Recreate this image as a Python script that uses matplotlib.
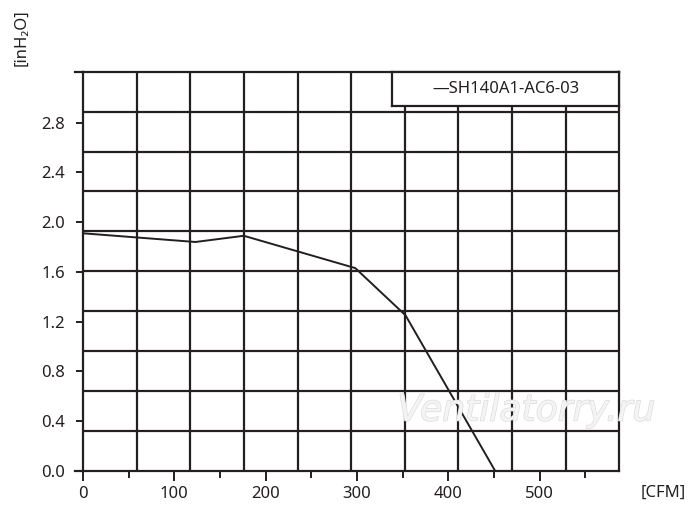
import numpy as np
import matplotlib
matplotlib.use("Agg")
import matplotlib.pyplot as plt
import matplotlib.patheffects as pe

plt.rcParams['font.family'] = ['Noto Sans', 'DejaVu Sans']

# данные кривой (CFM, inH2O)
flow_cfm = [0, 123, 176, 298, 353, 451]
pressure_inh2o = [1.91, 1.84, 1.89, 1.63, 1.25, 0.0]
series_name = "SH140A1-AC6-03"

x_ticks = [0, 100, 200, 300, 400, 500]
y_ticks = [0.0, 0.4, 0.8, 1.2, 1.6, 2.0, 2.4, 2.8]
X_MAX, Y_MAX = 587, 3.21

ink = '#231f20'

fig = plt.figure(figsize=(7, 5.23), dpi=100)
ax = fig.add_axes([0.1186, 0.1, 0.7661, 0.7629])
ax.set_xlim(0, X_MAX)
ax.set_ylim(0, Y_MAX)

# сетка 10x10, не совпадает с делениями осей
for gx in np.linspace(0, X_MAX, 11)[1:-1]:
    ax.axvline(gx, color=ink, lw=1.6, zorder=1)
for gy in np.linspace(0, Y_MAX, 11)[1:-1]:
    ax.axhline(gy, color=ink, lw=1.6, zorder=1)

for s in ax.spines.values():
    s.set_color(ink)
    s.set_linewidth(1.6)

# выступы верхней и нижней рамки влево
for yy in (0, 1):
    ax.plot([-0.015, 0], [yy, yy], transform=ax.transAxes, color=ink, lw=1.6, clip_on=False)

ax.plot(flow_cfm, pressure_inh2o, color=ink, lw=1.4, zorder=3)

ax.set_xticks(x_ticks)
ax.set_xticks(np.arange(50, X_MAX, 100), minor=True)
ax.set_yticks(y_ticks)
ax.set_yticklabels([f"{v:.1f}" for v in y_ticks])
ax.tick_params(axis='both', which='both', direction='out', color=ink, width=1.4, labelsize=12, labelcolor=ink)
ax.tick_params(axis='x', which='major', length=7, pad=4)
ax.tick_params(axis='x', which='minor', length=5)
ax.tick_params(axis='y', length=5, pad=8)

fig.text(0.031, 0.929, "[inH\u2082O]", rotation=90, ha='center', va='center', fontsize=12, color=ink)
fig.text(0.948, 0.058, "[CFM]", ha='center', va='center', fontsize=12, color=ink)

# легенда как отдельная рамка
leg_ax = fig.add_axes([0.56, 0.7965, 0.3247, 0.0664])
leg_ax.set_xticks([])
leg_ax.set_yticks([])
for s in leg_ax.spines.values():
    s.set_color(ink)
    s.set_linewidth(1.6)
leg_ax.text(0.5, 0.5, "\u2014" + series_name, ha='center', va='center', fontsize=12, color=ink)

# водяной знак
fig.text(0.752, 0.215, "Ventilatorry.ru", ha='center', va='center', fontsize=26, style='italic',
         family='DejaVu Sans', color='#f4f4f4',
         path_effects=[pe.withStroke(linewidth=1.0, foreground='#dcdcdc')], zorder=10)

fig.savefig("out.png", dpi=100)
